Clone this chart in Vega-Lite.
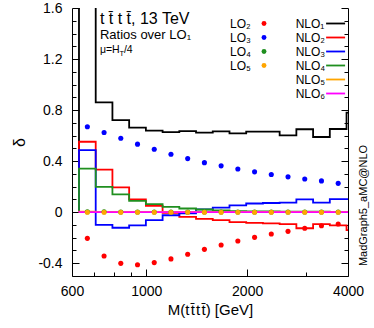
{
  "$schema": "https://vega.github.io/schema/vega-lite/v6.json",
  "width": 276,
  "height": 268,
  "autosize": {"type": "none"},
  "padding": {"left": 72, "top": 8, "right": 26, "bottom": 52},
  "background": "white",
  "config": {
    "view": {"stroke": null},
    "font": "Liberation Sans",
    "axis": {"grid": false, "domainColor": "black", "tickColor": "black", "labelColor": "black", "titleColor": "black", "domainWidth": 1, "tickWidth": 1, "labelFont": "Liberation Sans", "titleFont": "Liberation Sans", "titleFontWeight": "normal", "labelFlush": false, "labelOverlap": false},
    "legend": {"labelFont": "Liberation Sans", "labelColor": "black", "labelFontSize": 12}
  },
  "datasets": {
    "hist": [
      {"i": 0, "m": 629.5, "NLO₁": 0, "NLO₂": 0, "NLO₃": 0, "NLO₄": 0, "NLO₅": 0, "NLO₆": 0},
      {"i": 1, "m": 629.5, "NLO₁": 2.3, "NLO₂": 0.552, "NLO₃": 0.487, "NLO₄": 0.342, "NLO₅": 0.004, "NLO₆": 0.001},
      {"i": 2, "m": 706.2, "NLO₁": 0.861, "NLO₂": 0.334, "NLO₃": -0.1, "NLO₄": 0.198, "NLO₅": 0.003, "NLO₆": 0.001},
      {"i": 3, "m": 792.2, "NLO₁": 0.722, "NLO₂": 0.195, "NLO₃": -0.122, "NLO₄": 0.139, "NLO₅": 0.003, "NLO₆": 0.001},
      {"i": 4, "m": 888.7, "NLO₁": 0.662, "NLO₂": 0.1, "NLO₃": -0.104, "NLO₄": 0.089, "NLO₅": 0.002, "NLO₆": 0.0},
      {"i": 5, "m": 997.0, "NLO₁": 0.639, "NLO₂": 0.05, "NLO₃": -0.062, "NLO₄": 0.063, "NLO₅": 0.002, "NLO₆": 0.0},
      {"i": 6, "m": 1118.4, "NLO₁": 0.628, "NLO₂": -0.005, "NLO₃": -0.024, "NLO₄": 0.042, "NLO₅": 0.002, "NLO₆": 0.0},
      {"i": 7, "m": 1254.6, "NLO₁": 0.636, "NLO₂": -0.037, "NLO₃": -0.01, "NLO₄": 0.029, "NLO₅": 0.002, "NLO₆": 0.0},
      {"i": 8, "m": 1407.4, "NLO₁": 0.623, "NLO₂": -0.052, "NLO₃": 0.022, "NLO₄": 0.021, "NLO₅": 0.002, "NLO₆": 0.0},
      {"i": 9, "m": 1578.9, "NLO₁": 0.634, "NLO₂": -0.062, "NLO₃": 0.036, "NLO₄": 0.015, "NLO₅": 0.002, "NLO₆": 0.0},
      {"i": 10, "m": 1771.2, "NLO₁": 0.618, "NLO₂": -0.078, "NLO₃": 0.054, "NLO₄": 0.009, "NLO₅": 0.002, "NLO₆": 0.0},
      {"i": 11, "m": 1986.9, "NLO₁": 0.631, "NLO₂": -0.083, "NLO₃": 0.068, "NLO₄": 0.007, "NLO₅": 0.002, "NLO₆": 0.0},
      {"i": 12, "m": 2228.9, "NLO₁": 0.631, "NLO₂": -0.088, "NLO₃": 0.072, "NLO₄": 0.006, "NLO₅": 0.002, "NLO₆": 0.0},
      {"i": 13, "m": 2500.4, "NLO₁": 0.602, "NLO₂": -0.093, "NLO₃": 0.075, "NLO₄": 0.005, "NLO₅": 0.002, "NLO₆": 0.0},
      {"i": 14, "m": 2805.0, "NLO₁": 0.65, "NLO₂": -0.126, "NLO₃": 0.101, "NLO₄": 0.004, "NLO₅": 0.002, "NLO₆": 0.0},
      {"i": 15, "m": 3146.6, "NLO₁": 0.589, "NLO₂": -0.093, "NLO₃": 0.075, "NLO₄": 0.004, "NLO₅": 0.002, "NLO₆": 0.0},
      {"i": 16, "m": 3530.0, "NLO₁": 0.652, "NLO₂": -0.104, "NLO₃": 0.103, "NLO₄": 0.003, "NLO₅": 0.002, "NLO₆": 0.0},
      {"i": 17, "m": 3960.0, "NLO₁": 0.78, "NLO₂": -0.14, "NLO₃": 0.103, "NLO₄": 0.003, "NLO₅": 0.002, "NLO₆": 0.0},
      {"i": 18, "m": 4442.0, "NLO₁": 0.78, "NLO₂": -0.14, "NLO₃": 0.103, "NLO₄": 0.003, "NLO₅": 0.002, "NLO₆": 0.0}
    ],
    "pts": [
      {"c": 666.8, "LO₂": -0.205, "LO₃": 0.67, "LO₄": 0.003, "LO₅": 0.0},
      {"c": 748.0, "LO₂": -0.343, "LO₃": 0.625, "LO₄": 0.003, "LO₅": 0.0},
      {"c": 839.1, "LO₂": -0.401, "LO₃": 0.579, "LO₄": 0.002, "LO₅": 0.0},
      {"c": 941.3, "LO₂": -0.412, "LO₃": 0.533, "LO₄": 0.002, "LO₅": 0.0},
      {"c": 1056.0, "LO₂": -0.395, "LO₃": 0.493, "LO₄": 0.002, "LO₅": 0.0},
      {"c": 1184.6, "LO₂": -0.366, "LO₃": 0.454, "LO₄": 0.002, "LO₅": 0.0},
      {"c": 1328.9, "LO₂": -0.33, "LO₃": 0.42, "LO₄": 0.002, "LO₅": 0.0},
      {"c": 1490.8, "LO₂": -0.291, "LO₃": 0.388, "LO₄": 0.002, "LO₅": 0.0},
      {"c": 1672.3, "LO₂": -0.257, "LO₃": 0.363, "LO₄": 0.002, "LO₅": 0.0},
      {"c": 1876.0, "LO₂": -0.226, "LO₃": 0.339, "LO₄": 0.002, "LO₅": 0.0},
      {"c": 2104.5, "LO₂": -0.197, "LO₃": 0.316, "LO₄": 0.002, "LO₅": 0.0},
      {"c": 2360.9, "LO₂": -0.171, "LO₃": 0.295, "LO₄": 0.002, "LO₅": 0.0},
      {"c": 2648.5, "LO₂": -0.15, "LO₃": 0.277, "LO₄": 0.002, "LO₅": 0.0},
      {"c": 2971.1, "LO₂": -0.126, "LO₃": 0.26, "LO₄": 0.002, "LO₅": 0.0},
      {"c": 3333.0, "LO₂": -0.106, "LO₃": 0.245, "LO₄": 0.002, "LO₅": 0.0},
      {"c": 3739.0, "LO₂": -0.092, "LO₃": 0.226, "LO₄": 0.002, "LO₅": 0.0}
    ]
  },
  "layer": [
    {
      "data": {"name": "hist"},
      "transform": [{"fold": ["NLO₁", "NLO₂", "NLO₃", "NLO₄"], "as": ["series", "v"]}],
      "mark": {"type": "line", "interpolate": "step-after", "clip": true, "strokeWidth": 1.8},
      "encoding": {
        "x": {"field": "m", "type": "quantitative", "scale": {"type": "log", "domain": [600, 4000], "nice": false},
          "axis": {"orient": "bottom", "values": [600, 1000, 2000, 4000], "format": "d", "labelFontSize": 14, "labelPadding": 15, "tickSize": -7, "title": "M(t\u200at\u0304\u200at\u200at\u0304) [GeV]", "titleFontSize": 15, "titlePadding": 4}},
        "y": {"field": "v", "type": "quantitative", "scale": {"domain": [-0.5, 1.6], "nice": false, "zero": false},
          "axis": {"orient": "left", "values": [-0.4, 0, 0.4, 0.8, 1.2, 1.6], "labelExpr": "'' + datum.value", "labelFontSize": 14, "labelPadding": 17, "tickSize": -7, "title": "δ", "titleFontSize": 16, "titlePadding": 10}},
        "stroke": {"field": "series", "type": "nominal",
          "scale": {"domain": ["NLO₁", "NLO₂", "NLO₃", "NLO₄", "NLO₅", "NLO₆"], "range": ["#000000", "#ff0000", "#0000ff", "#1f8f1f", "#ffa500", "#ff00ff"]},
          "legend": {"orient": "none", "legendX": 257.6, "legendY": 9.5, "title": null, "symbolType": "M-3,0H3", "symbolSize": 40, "symbolStrokeWidth": 1.8, "rowPadding": 2, "labelOffset": -45.9, "symbolOffset": 0}},
        "order": {"field": "i", "type": "quantitative"}
      }
    },
    {
      "data": {"name": "hist"},
      "transform": [{"fold": ["NLO₅", "NLO₆"], "as": ["series", "v"]}],
      "mark": {"type": "line", "interpolate": "step-after", "clip": true, "strokeWidth": 1.8},
      "encoding": {
        "x": {"field": "m", "type": "quantitative",
          "axis": {"orient": "bottom", "values": [700, 800, 900, 3000], "labels": false, "domain": false, "tickSize": -4, "title": null}},
        "y": {"field": "v", "type": "quantitative",
          "axis": {"orient": "left", "values": [-0.3, -0.2, -0.1, 0.1, 0.2, 0.3, 0.5, 0.6, 0.7, 0.9, 1.0, 1.1, 1.3, 1.4, 1.5], "labels": false, "domain": false, "tickSize": -4, "title": null}},
        "stroke": {"field": "series", "type": "nominal"},
        "order": {"field": "i", "type": "quantitative"}
      }
    },
    {
      "data": {"name": "pts"},
      "transform": [{"fold": ["LO₄", "LO₅"], "as": ["series", "v"]}],
      "mark": {"type": "point", "filled": true, "shape": "circle", "size": 26, "opacity": 1, "clip": true},
      "encoding": {
        "x": {"field": "c", "type": "quantitative", "axis": null},
        "y": {"field": "v", "type": "quantitative",
          "axis": {"orient": "right", "values": [-0.4, 0, 0.4, 0.8, 1.2, 1.6], "labels": false, "tickSize": -7, "title": "MadGraph5_aMC@NLO", "titleAngle": 270, "titleFontSize": 11, "titleX": 15, "titleY": 197, "titleBaseline": "middle", "titleAlign": "center"}},
        "fill": {"field": "series", "type": "nominal",
          "scale": {"domain": ["LO₂", "LO₃", "LO₄", "LO₅"], "range": ["#ff0000", "#0000ff", "#1f8f1f", "#ffa500"]},
          "legend": {"orient": "none", "legendX": 186, "legendY": 9.5, "title": null, "symbolType": "circle", "symbolSize": 24, "symbolStrokeWidth": 0, "rowPadding": 2, "labelOffset": -40, "symbolOffset": 0}}
      }
    },
    {
      "data": {"name": "pts"},
      "transform": [{"fold": ["LO₂", "LO₃"], "as": ["series", "v"]}],
      "mark": {"type": "point", "filled": true, "shape": "circle", "size": 26, "opacity": 1, "clip": true},
      "encoding": {
        "x": {"field": "c", "type": "quantitative", "axis": null},
        "y": {"field": "v", "type": "quantitative",
          "axis": {"orient": "right", "values": [-0.3, -0.2, -0.1, 0.1, 0.2, 0.3, 0.5, 0.6, 0.7, 0.9, 1.0, 1.1, 1.3, 1.4, 1.5], "labels": false, "domain": false, "tickSize": -4, "title": null}},
        "fill": {"field": "series", "type": "nominal"}
      }
    },
    {
      "data": {"values": [{}]},
      "mark": {"type": "text", "align": "left", "baseline": "alphabetic", "fontSize": 16, "font": "Liberation Sans", "color": "black"},
      "encoding": {"x": {"datum": 727, "type": "quantitative", "axis": null}, "y": {"datum": 1.475, "type": "quantitative", "axis": null}, "text": {"value": "t t\u0304 t t\u0304, 13 TeV"}}
    },
    {
      "data": {"values": [{}]},
      "mark": {"type": "text", "align": "left", "baseline": "alphabetic", "fontSize": 13, "font": "Liberation Sans", "color": "black"},
      "encoding": {"x": {"datum": 727, "type": "quantitative", "axis": null}, "y": {"datum": 1.355, "type": "quantitative", "axis": null}, "text": {"value": "Ratios over LO₁"}}
    },
    {
      "data": {"values": [{}]},
      "mark": {"type": "text", "align": "left", "baseline": "alphabetic", "fontSize": 10.5, "font": "Liberation Sans", "color": "black"},
      "encoding": {"x": {"datum": 727, "type": "quantitative", "axis": null}, "y": {"datum": 1.245, "type": "quantitative", "axis": null}, "text": {"value": "μ=H"}}
    },
    {
      "data": {"values": [{}]},
      "mark": {"type": "text", "align": "left", "baseline": "alphabetic", "fontSize": 7.5, "font": "Liberation Sans", "color": "black", "dx": 19.5, "dy": 3},
      "encoding": {"x": {"datum": 727, "type": "quantitative", "axis": null}, "y": {"datum": 1.245, "type": "quantitative", "axis": null}, "text": {"value": "T"}}
    },
    {
      "data": {"values": [{}]},
      "mark": {"type": "text", "align": "left", "baseline": "alphabetic", "fontSize": 10.5, "font": "Liberation Sans", "color": "black", "dx": 24},
      "encoding": {"x": {"datum": 727, "type": "quantitative", "axis": null}, "y": {"datum": 1.245, "type": "quantitative", "axis": null}, "text": {"value": "/4"}}
    }
  ],
  "resolve": {"axis": {"x": "independent", "y": "independent"}}
}
